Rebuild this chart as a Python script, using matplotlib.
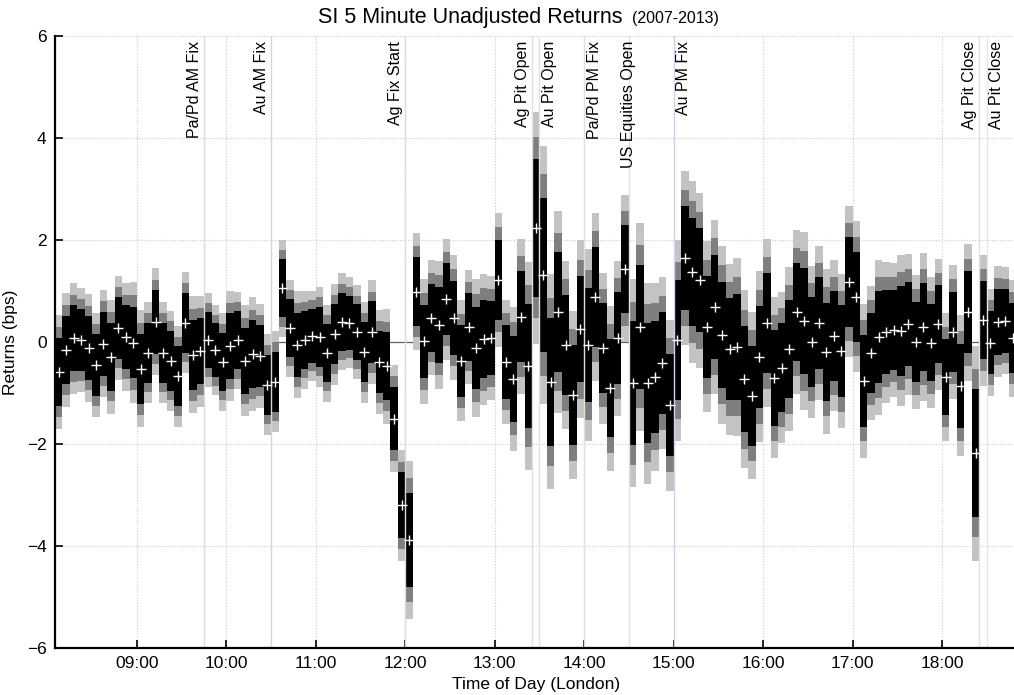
import numpy as np
import pandas as pd
import matplotlib
matplotlib.use("Agg")
import matplotlib.pyplot as plt

# ---------------------------------------------------------------
# SI (silver futures) mean 5-minute returns by time of day, London
# ---------------------------------------------------------------
first_slot = "08:05"
slot_minutes = 5

# mean return of each 5-minute slot (bps), starting 08:05
mean_bps = [
    -0.59, -0.16, 0.07, 0.04, -0.12, -0.45, -0.03, -0.29, 0.28, 0.10,
    -0.01, -0.52, -0.21, 0.40, -0.21, -0.37, -0.67, 0.38, -0.25, -0.18,
    0.04, -0.16, -0.39, -0.08, 0.03, -0.37, -0.24, -0.27, -0.84, -0.78,
    1.05, 0.27, -0.05, 0.04, 0.12, 0.10, -0.22, 0.15, 0.40, 0.38,
    0.19, -0.20, 0.19, -0.39, -0.48, -1.50, -3.20, -3.88, 0.99, 0.01,
    0.48, 0.33, 0.84, 0.48, -0.37, 0.30, -0.12, 0.05, 0.08, 1.22,
    -0.39, -0.72, 0.50, -0.47, 2.24, 1.31, -0.78, 0.59, -0.06, -1.04,
    0.25, -0.06, 0.89, -0.12, -0.91, 0.07, 1.44, -0.81, 0.30, -0.81,
    -0.68, -0.41, -1.24, 0.03, 1.65, 1.37, 1.21, 0.30, 0.69, 0.14,
    -0.14, -0.09, -0.73, -1.05, -0.29, 0.37, -0.70, -0.50, -0.14, 0.59,
    0.41, 0.00, 0.37, -0.19, 0.12, -0.18, 1.18, 0.89, -0.76, -0.21,
    0.09, 0.19, 0.24, 0.22, 0.35, 0.00, 0.30, -0.01, 0.35, -0.69,
    0.20, -0.86, 0.58, -2.18, 0.43, -0.01, 0.40, 0.42, 0.07,
]

# standard error of each slot mean (bps)
stderr_bps = [
    0.34, 0.34, 0.33, 0.31, 0.32, 0.31, 0.32, 0.34, 0.31, 0.32,
    0.36, 0.35, 0.30, 0.32, 0.30, 0.30, 0.30, 0.30, 0.35, 0.33,
    0.28, 0.27, 0.29, 0.33, 0.29, 0.33, 0.34, 0.31, 0.30, 0.30,
    0.29, 0.29, 0.32, 0.29, 0.27, 0.30, 0.29, 0.30, 0.29, 0.27,
    0.28, 0.30, 0.31, 0.31, 0.34, 0.32, 0.33, 0.47, 0.35, 0.37,
    0.34, 0.38, 0.36, 0.37, 0.36, 0.34, 0.41, 0.39, 0.37, 0.40,
    0.37, 0.43, 0.46, 0.62, 0.69, 0.77, 0.64, 0.60, 0.50, 0.50,
    0.53, 0.57, 0.50, 0.45, 0.49, 0.46, 0.44, 0.62, 0.62, 0.60,
    0.56, 0.51, 0.51, 0.60, 0.52, 0.54, 0.52, 0.51, 0.52, 0.53,
    0.51, 0.53, 0.53, 0.50, 0.51, 0.50, 0.48, 0.45, 0.49, 0.49,
    0.53, 0.45, 0.46, 0.49, 0.45, 0.46, 0.45, 0.45, 0.46, 0.40,
    0.46, 0.42, 0.40, 0.45, 0.42, 0.40, 0.44, 0.39, 0.39, 0.38,
    0.40, 0.42, 0.41, 0.64, 0.39, 0.32, 0.33, 0.32, 0.35,
]

# confidence bands drawn around each mean: widest first
band_z = [3.291, 2.576, 1.960]          # 99.9 %, 99 %, 95 %
band_colors = ["#c3c3c3", "#7f7f7f", "#000000"]

# market events (London time)
event_times = ["09:45", "10:30", "12:00", "13:25", "13:30",
               "14:00", "14:30", "15:00", "18:25", "18:30"]
event_labels = ["Pa/Pd AM Fix", "Au AM Fix", "Ag Fix Start", "Ag Pit Open",
                "Au Pit Open", "Pa/Pd PM Fix", "US Equities Open",
                "Au PM Fix", "Ag Pit Close", "Au Pit Close"]
event_side = [-1, -1, -1, -1, 1, 1, 0, 1, -1, 1]
event_colors = ["#dadae6", "#d2d2ec", "#dadae6", "#d8e8d4", "#d8e8d4",
                "#dce4d4", "#e2e2d8", "#d2d2ec", "#d8e8d4", "#e8ecd4"]

hour_ticks = ["09:00", "10:00", "11:00", "12:00", "13:00",
              "14:00", "15:00", "16:00", "17:00", "18:00"]


def to_hours(hhmm):
    h, m = hhmm.split(":")
    return int(h) + int(m) / 60.0


means = np.asarray(mean_bps)
se = np.asarray(stderr_bps)
slot_width = slot_minutes / 60.0
slot_start = to_hours(first_slot) + slot_width * np.arange(len(means))
slot_mid = slot_start + slot_width / 2

plt.rcParams["font.family"] = ["Liberation Sans", "DejaVu Sans"]

fig = plt.figure(figsize=(10.14, 6.95), dpi=100)
W, H = 1014.0, 695.0
ax = fig.add_axes([55 / W, 47 / H, (1016.5 - 55) / W, 612 / H])

# grid
ax.set_axisbelow(True)
ax.grid(True, which="major", color="#cccccc", linestyle=(0, (1, 1.5)), linewidth=0.8)
ax.axhline(0, color="#606060", linewidth=0.9, zorder=1.5)

# stacked confidence bands
for z, col in zip(band_z, band_colors):
    ax.bar(slot_start, 2 * z * se, bottom=means - z * se, width=slot_width,
           align="edge", color=col, edgecolor="none", linewidth=0, zorder=2)

# slot means
ax.plot(slot_mid, means, linestyle="none", marker="+", markersize=7,
        markeredgewidth=1.0, color="white", zorder=4)

# event markers
for t, lab, side, col in zip(event_times, event_labels, event_side, event_colors):
    xe = to_hours(t)
    ax.axvline(xe, color=col, linewidth=1.0, zorder=3)
    ax.annotate(lab, xy=(xe, 5.9), xytext=(side * 7.2, 0),
                textcoords="offset points", rotation=90,
                ha="center", va="top", fontsize=11.5, color="black", zorder=5)

ax.set_xlim(to_hours(first_slot), to_hours("18:50"))
ax.set_ylim(-6, 6)
ax.set_xticks([to_hours(t) for t in hour_ticks])
ax.set_xticklabels(hour_ticks)
ax.set_yticks(np.arange(-6, 7, 2))

for s in ["top", "right"]:
    ax.spines[s].set_visible(False)
for s in ["left", "bottom"]:
    ax.spines[s].set_linewidth(1.6)
    ax.spines[s].set_zorder(6)
ax.tick_params(direction="in", length=6, width=1.2, labelsize=12.5, pad=6)

ax.set_xlabel("Time of Day (London)", fontsize=12.5, labelpad=4)
ax.set_ylabel("Returns (bps)", fontsize=12.5)
ax.yaxis.set_label_coords((18 - 55) / 961.5, 0.5)

fig.text(622 / W, 1 - 18 / H, "SI 5 Minute Unadjusted Returns",
         ha="right", va="center", fontsize=15.5)
fig.text(632 / W, 1 - 19 / H, "(2007-2013)", ha="left", va="center", fontsize=11.5)

fig.savefig("out.png", dpi=100)
